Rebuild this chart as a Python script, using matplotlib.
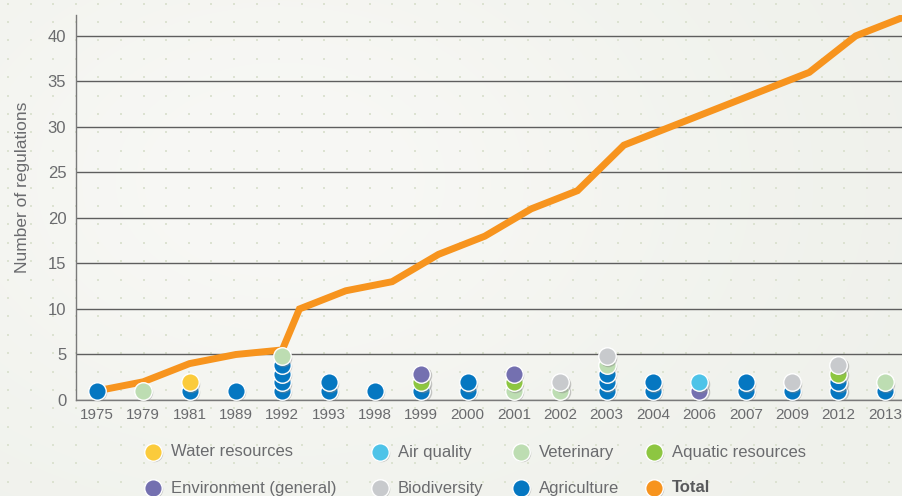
import matplotlib
matplotlib.use('Agg')
import matplotlib.pyplot as plt
from matplotlib import transforms
from matplotlib.colors import to_rgb
import numpy as np

plt.rcParams['font.family'] = ['Liberation Sans', 'DejaVu Sans']

W, H = 902, 496

CAT_COLOR = {
    'Water resources': '#FBCB3C',
    'Air quality': '#4EC3E8',
    'Veterinary': '#BDDDB2',
    'Aquatic resources': '#8DC641',
    'Environment (general)': '#7470B0',
    'Biodiversity': '#C8CACD',
    'Agriculture': '#0577C1',
    'Total': '#F7941E',
}

years = ['1975', '1979', '1981', '1989', '1992', '1993', '1998', '1999', '2000',
         '2001', '2002', '2003', '2004', '2006', '2007', '2009', '2012', '2013']

# regulations adopted each year, bottom of the stack first
adopted = [
    ['Agriculture'],
    ['Veterinary'],
    ['Agriculture', 'Water resources'],
    ['Agriculture'],
    ['Agriculture', 'Agriculture', 'Agriculture', 'Agriculture', 'Veterinary'],
    ['Agriculture', 'Agriculture'],
    ['Agriculture'],
    ['Agriculture', 'Aquatic resources', 'Environment (general)'],
    ['Agriculture', 'Agriculture'],
    ['Veterinary', 'Aquatic resources', 'Environment (general)'],
    ['Veterinary', 'Biodiversity'],
    ['Agriculture', 'Agriculture', 'Agriculture', 'Veterinary', 'Biodiversity'],
    ['Agriculture', 'Agriculture'],
    ['Environment (general)', 'Air quality'],
    ['Agriculture', 'Agriculture'],
    ['Agriculture', 'Biodiversity'],
    ['Agriculture', 'Agriculture', 'Aquatic resources', 'Biodiversity'],
    ['Agriculture', 'Veterinary'],
]

# running total of regulations
totals = [1, 2, 4, 5, 10, 12, 13, 16, 18, 21, 23, 28, 30, 32, 34, 36, 40, 42]
total_before_1992 = 5.5

legend_rows = [
    ['Water resources', 'Air quality', 'Veterinary', 'Aquatic resources'],
    ['Environment (general)', 'Biodiversity', 'Agriculture', 'Total'],
]

BG = '#F2F3EE'
TXT = '#6A6B6E'

fig = plt.figure(figsize=(W / 100, H / 100), dpi=100, facecolor=BG)

# background: soft light patch plus the dotted texture
bg = fig.add_axes([0, 0, 1, 1], zorder=-2)
yy, xx = np.mgrid[0:H, 0:W]
glow = np.exp(-(((xx - 280) / 420.0) ** 2 + ((yy - 180) / 300.0) ** 2))
c_lo, c_hi = np.array(to_rgb('#EFF1EB')), np.array(to_rgb('#F8F8F5'))
img = c_lo + (c_hi - c_lo) * glow[..., None]
bg.imshow(img, extent=(0, W, H, 0), aspect='auto', interpolation='bilinear')
bg.set_xlim(0, W)
bg.set_ylim(H, 0)
bg.axis('off')
gx, gy = np.meshgrid(np.arange(8, W, 22.6), np.arange(3.5, H, 18.4))
bg.scatter(gx.ravel(), gy.ravel(), s=4.5, marker='s', color='#DCE2D1', lw=0)

left, bottom, top = 76 / W, (H - 400) / H, (H - 15) / H
ax = fig.add_axes([left, bottom, 1 - left, top - bottom], zorder=1)
ax.set_facecolor('none')
ax.set_xlim(-0.45, 17.37)
ax.set_ylim(0, 42.3)

ax.set_yticks(range(0, 41, 5))
ax.grid(axis='y', color='#5E5E5E', lw=1.0)
ax.set_axisbelow(True)
for s in ['top', 'right']:
    ax.spines[s].set_visible(False)
for s in ['left', 'bottom']:
    ax.spines[s].set_color('#7A7A7A')
    ax.spines[s].set_linewidth(1.0)
ax.tick_params(axis='y', length=0, pad=7, labelsize=12, labelcolor=TXT)
ax.tick_params(axis='x', length=0, pad=6, labelsize=11, labelcolor=TXT)
ax.set_xticks(range(len(years)))
ax.set_xticklabels(years)
ax.set_ylabel('Number of regulations', fontsize=12.5, color=TXT)
ax.yaxis.set_label_coords(-0.056, 0.553)

# cumulative total, drawn slightly after each year's stack
lag = 0.37
line_x = list(range(4)) + [4] + [i + lag for i in range(4, len(years))]
line_y = totals[:4] + [total_before_1992] + totals[4:]
ax.plot(line_x, line_y, color=CAT_COLOR['Total'], lw=5, solid_joinstyle='miter',
        zorder=2, clip_on=True)

shadow = transforms.offset_copy(ax.transData, fig=fig, x=1.2, y=-1.4, units='dots')
step = 0.95
z = 3
for i, stack in enumerate(adopted):
    for k, cat in enumerate(stack):
        yv = 1 + k * step
        ax.plot(i, yv, 'o', ms=12.6, color='#8A8A8A', alpha=0.45, mew=0,
                transform=shadow, zorder=z, clip_on=False)
        ax.plot(i, yv, 'o', ms=12.6, color=CAT_COLOR[cat], mec='white', mew=1.0,
                zorder=z + 0.5, clip_on=False)
        z += 1

# legend drawn in pixel coordinates
lg = fig.add_axes([0, 0, 1, 1], zorder=5)
lg.set_xlim(0, W)
lg.set_ylim(H, 0)
lg.axis('off')
col_x = [153, 380, 521, 654]
row_y = [452, 488]
for r, row in enumerate(legend_rows):
    for c, name in enumerate(row):
        x0, y0 = col_x[c], row_y[r]
        lg.plot(x0 + 1.2, y0 + 1.4, 'o', ms=12.6, color='#8A8A8A', alpha=0.45, mew=0)
        lg.plot(x0, y0, 'o', ms=12.6, color=CAT_COLOR[name], mec='white', mew=1.0)
        bold = name == 'Total'
        lg.text(x0 + 18, y0, name, fontsize=12, va='center', ha='left',
                color='#58595B' if bold else TXT,
                fontweight='bold' if bold else 'normal')

fig.savefig('out.png', dpi=100)
